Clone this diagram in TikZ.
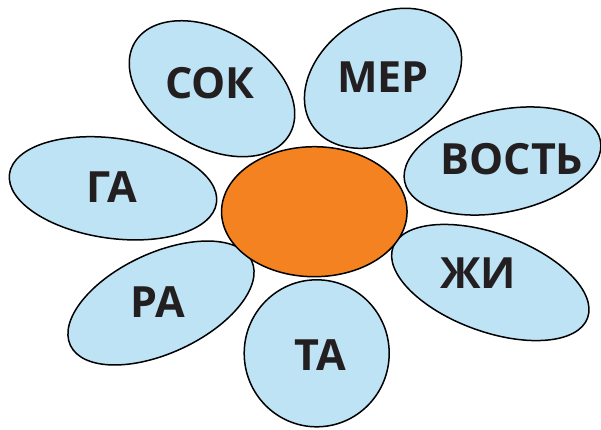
\documentclass[tikz,border=0pt]{standalone}
\usepackage{fontspec}
\setmainfont{Open Sans}
\usepackage{tikz}
\usetikzlibrary{shapes.geometric}
\definecolor{petalblue}{HTML}{BEE3F5}
\definecolor{heartorange}{HTML}{F58220}
\definecolor{inkgrey}{HTML}{231F20}
\tikzstyle{petal} = [
    ellipse,
    draw=black,
    line width=1.5pt,
    fill=petalblue,
    inner sep=0pt,
    minimum width=200pt,
    minimum height=100pt
]
\tikzstyle{heart} = [
    ellipse,
    draw=black,
    line width=1.5pt,
    fill=heartorange,
    inner sep=0pt,
    minimum width=185pt,
    minimum height=130pt
]
\tikzstyle{syllable} = [font=\bfseries\fontsize{43}{43}\selectfont, text=inkgrey, inner sep=0pt]

\begin{document}
\begin{tikzpicture}[x=1pt, y=-1pt]
    \useasboundingbox (0,0) rectangle (601,429);
    % Blütenblätter
    \node (sok) [petal, minimum width=180pt, minimum height=116pt, rotate=-31] at (212,88.7) {};
    \node (mer) [petal, minimum width=170pt, minimum height=124pt, rotate=34] at (383,78.3) {};
    \node (vost) [petal, minimum height=102pt, rotate=12] at (502.5,161) {};
    \node (ga) [petal, minimum width=209pt, rotate=-8] at (113,188.3) {};
    \node (zhi) [petal, minimum width=207pt, minimum height=98pt, rotate=-20] at (490.3,282.5) {};
    \node (ra) [petal, minimum height=100pt, rotate=25] at (161,303) {};
    \node (ta) [petal, minimum width=145pt, minimum height=147pt] at (316.7,353.3) {};
    % Mitte
    \node (mid) [heart, minimum width=185.5pt] at (314.3,211.7) {};
    % Silben
    \node (sokText) [syllable] at (210,83) {СОК};
    \node (merText) [syllable] at (383,76.7) {МЕР};
    \node (vostText) [syllable] at (512,159) {ВОСТЬ};
    \node (gaText) [syllable] at (111.7,186.7) {ГА};
    \node (zhiText) [syllable] at (478,273) {ЖИ};
    \node (raText) [syllable] at (158,301.7) {РА};
    \node (taText) [syllable] at (320,355) {ТА};
\end{tikzpicture}
\end{document}
